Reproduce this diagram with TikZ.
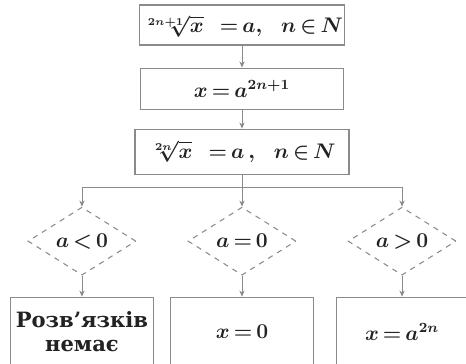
\documentclass[tikz,border=0pt]{standalone}
\usepackage{fontspec}
\setmainfont{DejaVu Serif}
\usepackage{tikz}
\usetikzlibrary{shapes.geometric, arrows.meta, positioning}
\definecolor{frame}{HTML}{8A8A8A}
\definecolor{ink}{HTML}{222222}
\thickmuskip=3mu plus 1mu
\medmuskip=2mu

\begin{document}
\begin{tikzpicture}[
    font=\fontsize{12}{14}\selectfont\bfseries\boldmath,
    text=ink,
    stepbox/.style={rectangle, draw=frame, line width=0.6pt, minimum width=4.06cm, minimum height=0.8cm, align=center, inner sep=1pt},
    resbox/.style={rectangle, draw=frame, line width=0.6pt, minimum width=2.86cm, minimum height=1.38cm, align=center, inner sep=2pt},
    cond/.style={diamond, draw=frame, dashed, line width=0.6pt, minimum width=2.16cm, minimum height=1.36cm, inner sep=0pt},
    link/.style={draw=frame, line width=0.5pt},
    arrow/.style={-{Stealth[length=3.5pt, width=3pt]}, line width=0.5pt, color=frame}
]
    \useasboundingbox (-4.84,0.5) rectangle (4.48,-6.76);

    \node[stepbox] (root) at (0,0) {\raisebox{-4.5pt}[0pt][0pt]{$\sqrt[2n+1]{x}\;\;\;= a,\ \ n\in N$}};
    \node[stepbox, minimum height=0.82cm, below=0.44cm of root] (power) {$x = a^{2n+1}$};
    \node[stepbox, minimum width=4.28cm, minimum height=0.9cm, below=0.38cm of power] (even) {$\sqrt[2n]{x}\;\;\;= a\,,\ \ n\in N$};
    \coordinate[below=0.26cm of even] (fork);

    \node[cond, below=0.64cm of even] (zero) {$a = 0$};
    \node[cond, left=1.02cm of zero] (neg) {$a < 0$};
    \node[cond, right=1.02cm of zero] (pos) {$a > 0$};

    \node[resbox, below=0.42cm of neg] (none) {Розв’язків\\немає};
    \node[resbox, below=0.42cm of zero] (nil) {$x = 0$};
    \node[resbox, minimum width=2.62cm, below=0.42cm of pos] (even-root) {$x = a^{2n}$};

    \draw[arrow] (root) -- (power);
    \draw[arrow] (power) -- (even);
    \draw[link] (even) -- (fork);
    \draw[arrow] (fork) -| (neg.north);
    \draw[arrow] (fork) -| (pos.north);
    \draw[arrow] (fork) -- (zero.north);

    \draw[arrow] (neg) -- (none);
    \draw[arrow] (zero) -- (nil);
    \draw[arrow] (pos) -- (even-root);
\end{tikzpicture}
\end{document}
